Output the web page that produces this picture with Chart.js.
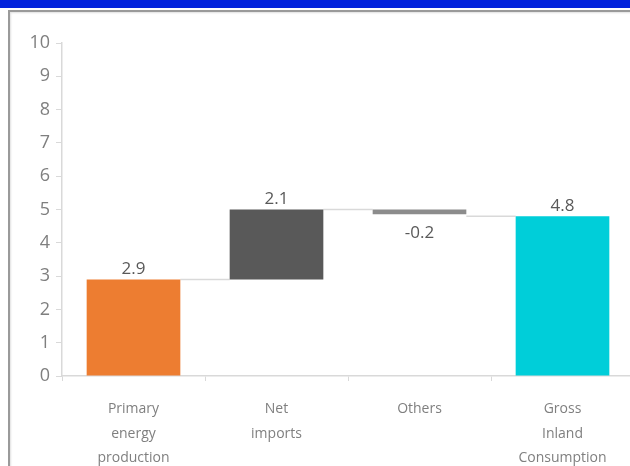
<!DOCTYPE html>
<html>
<head>
<meta charset="utf-8">
<script src="https://cdn.jsdelivr.net/npm/chart.js@4/dist/chart.umd.min.js"></script>
<style>
  html, body { margin: 0; padding: 0; background: #fff; overflow: hidden; }
  #wrap { position: relative; width: 630px; height: 466px; overflow: hidden; }
  #topbar { position: absolute; left: 0; top: 0; width: 630px; height: 8px; background: #0424dc; }
  #frame { position: absolute; left: 8px; top: 10px; width: 640px; height: 470px;
           border-top: 2px solid #9a9a9a; border-left: 2px solid #9a9a9a;
           box-shadow: inset 1px 1px 2px #e0e0e0; }
  #holder { position: absolute; left: 0; top: 0; width: 640px; height: 466px; }
  #chart { display: block; }
</style>
</head>
<body>
<div id="wrap">
  <div id="topbar"></div>
  <div id="frame"></div>
  <div id="holder"><canvas id="chart" width="640" height="466"></canvas></div>
</div>
<script>
// waterfall: energy balance
const categories = [["Primary", "energy", "production"], ["Net", "imports"], ["Others"], ["Gross", "Inland", "Consumption"]];
const barStart = [0, 2.9, 4.86, 0];
const barEnd = [2.9, 5.0, 5.0, 4.8];
const valueLabels = ["2.9", "2.1", "-0.2", "4.8"];
const connectorLevels = [2.9, 5.0, 4.8]; // from bar i to bar i+1
const barColors = ["#ed7d31", "#595959", "#8c8c8c", "#00ced9"];
const yTicks = [0, 1, 2, 3, 4, 5, 6, 7, 8, 9, 10];

const waterfallExtras = {
    id: 'waterfallExtras',
    beforeDatasetsDraw(chart) {
        const ctx = chart.ctx;
        const meta = chart.getDatasetMeta(0);
        const y = chart.scales.y;
        ctx.save();
        ctx.strokeStyle = '#d9d9d9';
        ctx.lineWidth = 1.5;
        connectorLevels.forEach((lvl, i) => {
            const a = meta.data[i], b = meta.data[i + 1];
            const py = y.getPixelForValue(lvl);
            ctx.beginPath();
            ctx.moveTo(a.x + a.width / 2, py);
            ctx.lineTo(b.x - b.width / 2, py);
            ctx.stroke();
        });
        ctx.restore();
    },
    afterDatasetsDraw(chart) {
        const ctx = chart.ctx;
        const meta = chart.getDatasetMeta(0);
        ctx.save();
        ctx.font = '17px "Open Sans", sans-serif';
        ctx.fillStyle = '#595959';
        ctx.textAlign = 'center';
        meta.data.forEach((bar, i) => {
            const neg = valueLabels[i].startsWith('-');
            const top = Math.min(bar.y, bar.base);
            const bottom = Math.max(bar.y, bar.base);
            if (neg) {
                ctx.textBaseline = 'top';
                ctx.fillText(valueLabels[i], bar.x, bottom + 10);
            } else {
                ctx.textBaseline = 'bottom';
                ctx.fillText(valueLabels[i], bar.x, top - 2);
            }
        });
        ctx.restore();
    }
};

new Chart(document.getElementById('chart'), {
    type: 'bar',
    data: {
        labels: categories,
        datasets: [{
            data: barStart.map((s, i) => [s, barEnd[i]]),
            backgroundColor: barColors,
            borderWidth: 0,
            categoryPercentage: 1,
            barPercentage: 0.655
        }]
    },
    options: {
        responsive: false,
        animation: false,
        devicePixelRatio: 1,
        layout: { padding: { top: 43, right: 6, left: 0, bottom: 0 } },
        plugins: { legend: { display: false }, tooltip: { enabled: false } },
        scales: {
            x: {
                afterFit(scale) { scale.height = 90; },
                border: { color: '#d9d9d9', width: 1.5 },
                grid: { offset: true, drawOnChartArea: false, drawTicks: true, tickLength: 5, color: '#d9d9d9' },
                ticks: {
                    autoSkip: false,
                    padding: 16,
                    maxRotation: 0,
                    color: '#7f7f7f',
                    font: { family: '"Open Sans", sans-serif', size: 14, lineHeight: 1.75 }
                }
            },
            y: {
                min: 0,
                max: 10,
                afterFit(scale) { scale.width = 62; },
                afterBuildTicks(scale) { scale.ticks = yTicks.map(v => ({ value: v })); },
                border: { color: '#d9d9d9', width: 1.5 },
                grid: { drawOnChartArea: false, drawTicks: true, tickLength: 6, color: '#d9d9d9' },
                ticks: {
                    padding: 6,
                    color: '#7f7f7f',
                    font: { family: '"Open Sans", sans-serif', size: 18 }
                }
            }
        }
    },
    plugins: [waterfallExtras]
});
</script>
</body>
</html>
